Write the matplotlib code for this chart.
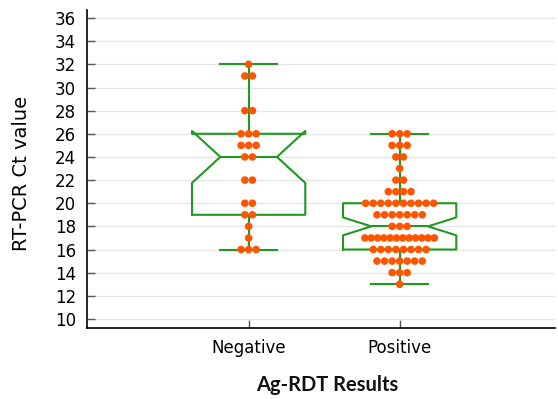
import numpy as np
import matplotlib
matplotlib.use('Agg')
import matplotlib.pyplot as plt

# Ct values, with how many dots sit at each level
groups = ['Negative', 'Positive']
neg_levels = [16, 17, 18, 19, 20, 22, 24, 25, 26, 28, 31, 32]
neg_counts = [3, 1, 1, 2, 2, 2, 2, 3, 3, 2, 2, 1]
pos_levels = [13, 14, 15, 16, 17, 18, 19, 20, 21, 22, 23, 24, 25, 26]
pos_counts = [1, 3, 7, 8, 12, 3, 7, 10, 4, 2, 1, 2, 3, 3]
y_ticks = list(range(10, 37, 2))

green = '#1f9a1f'
orange = '#ff5500'

plt.rcParams['font.family'] = ['DejaVu Sans']

neg_data = np.repeat(neg_levels, neg_counts)
pos_data = np.repeat(pos_levels, pos_counts)

fig = plt.figure(figsize=(5.58, 3.99), dpi=100)
ax = fig.add_axes([0.156, 0.178, 0.839, 0.797])

line_style = dict(color=green, linewidth=1.5)
ax.boxplot([neg_data, pos_data], positions=[1, 2], widths=0.75, notch=True,
           showfliers=False, whis=1.5,
           boxprops=line_style, whiskerprops=line_style,
           capprops=line_style, medianprops=line_style, zorder=2)


def swarm(ax, pos, levels, counts, step=0.05, max_span=0.46):
    # lay the dots of each level side by side, centred on the box
    for lev, n in zip(levels, counts):
        s = step if n < 2 else min(step, max_span / (n - 1))
        xs = pos + (np.arange(n) - (n - 1) / 2) * s
        ax.scatter(xs, [lev] * n, s=30, color=orange, edgecolors='none', zorder=3)


swarm(ax, 1, neg_levels, neg_counts)
swarm(ax, 2, pos_levels, pos_counts)

ax.set_xlim(-0.07, 3.03)
ax.set_ylim(9.22, 36.7)
ax.set_yticks(y_ticks)
ax.set_xticks([1, 2])
ax.set_xticklabels(groups)
ax.tick_params(axis='both', direction='in', length=6, width=1, color='#555555',
               labelsize=12, labelcolor='black')
ax.tick_params(axis='y', pad=8)
ax.tick_params(axis='x', pad=8)
ax.grid(axis='y', color='#e6e6e6', linewidth=1)
ax.set_axisbelow(True)

for side in ['top', 'right']:
    ax.spines[side].set_visible(False)
for side in ['left', 'bottom']:
    ax.spines[side].set_color('black')
    ax.spines[side].set_linewidth(1.2)

ax.set_ylabel('RT-PCR Ct value', fontsize=14, va='center')
ax.yaxis.set_label_coords(-0.139, 0.487)
fig.text(327 / 558, 1 - 385 / 399, 'Ag-RDT Results', ha='center', va='center',
         fontsize=14.5, fontweight='bold', family=['Lato', 'DejaVu Sans'], color='#111111')

plt.savefig('out.png', dpi=100)
plt.close()
